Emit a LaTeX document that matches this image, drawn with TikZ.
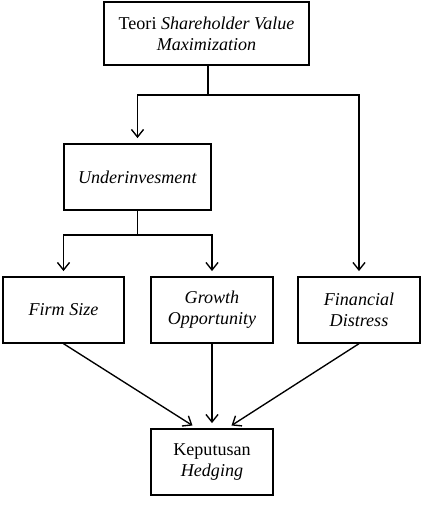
\documentclass[tikz,border=0pt]{standalone}
\usepackage{fontspec}
\setmainfont{Liberation Serif}
\usetikzlibrary{arrows.meta}

\tikzset{
  box/.style={draw, line width=0.9pt, align=center, inner sep=2pt,
    font=\fontsize{12}{14}\selectfont},
  link/.style={line width=0.9pt},
  arrow/.style={link, -{Straight Barb[length=5pt,width=8pt]}, shorten >=3.5pt},
}

\begin{document}
\begin{tikzpicture}[x=0.664pt,y=-0.664pt]
\useasboundingbox (0,0) rectangle (424,506);
\node[box, minimum width=136pt, minimum height=42pt] (theory) at (206.5,33.5)
  {Teori \textit{Shareholder Value}\\\textit{Maximization}};
\node[box, minimum width=97.6pt, minimum height=43.8pt] (under) at (137.5,177)
  {\textit{Underinvesment}};
\node[box, minimum width=80.3pt, minimum height=43.8pt] (firm) at (63.5,310)
  {\textit{Firm Size}};
\node[box, minimum width=81pt, minimum height=43.8pt] (growth) at (212,310)
  {\textit{Growth}\\\textit{Opportunity}};
\node[box, minimum width=81pt, minimum height=43.8pt] (distress) at (359,310)
  {\textit{Financial}\\\textit{Distress}};
\node[box, minimum width=81pt, minimum height=43.8pt] (hedging) at (212,462)
  {Keputusan\\\textit{Hedging}};
% branch points
\coordinate (split) at (208,95);
\coordinate (split2) at (under.south |- 0,235);
\draw[link] (theory.south -| split) -- (split);
\draw[arrow] (split) -| (under.north);
\draw[arrow] (split) -| (distress.north);
\draw[link] (under.south) -- (split2);
\draw[arrow] (split2) -| (firm.north);
\draw[arrow] (split2) -| (growth.north);
% into the decision
\draw[arrow] (firm.south) -- ([xshift=-10pt]hedging.north);
\draw[arrow] (growth.south) -- (hedging.north);
\draw[arrow] (distress.south) -- ([xshift=10pt]hedging.north);
\end{tikzpicture}
\end{document}
